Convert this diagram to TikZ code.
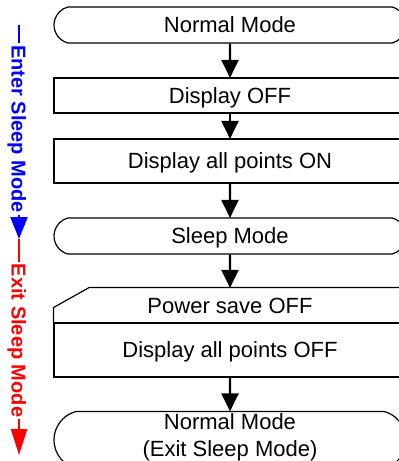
\documentclass[tikz,border=0pt]{standalone}
\usepackage{fontspec}
\setmainfont{Liberation Sans}
\usetikzlibrary{shapes.misc,arrows.meta,calc}
\begin{document}
\begin{tikzpicture}[x=1pt,y=-1pt,
  box/.style={draw, line width=1.2pt, rectangle, minimum width=352pt, inner sep=0pt,
    font=\fontsize{22}{27}\selectfont, text height=15.8pt, text depth=0pt},
  term/.style={box, rounded rectangle, rounded rectangle arc length=150},
  arr/.style={line width=2.2pt, -{Triangle[length=18pt,width=17pt]}, shorten >=-0.5pt},
  side/.style={font=\fontsize{20}{24}\selectfont\bfseries, rotate=-90, inner sep=1.5pt, text height=14.5pt, text depth=0pt},
  sarr/.style={line width=2.4pt}
]
\clip (0,0) rectangle (399,461);
\node[term, minimum height=36pt] (nm1) at (230,25) {Normal Mode};
\node[box, minimum height=35pt] (d1) at (230,95.5) {Display OFF};
\node[box, minimum height=44pt] (d2) at (230,161) {Display all points ON};
\node[term, minimum height=36pt] (sl) at (230,236) {Sleep Mode};
\node[box, draw=none, minimum height=35pt] (ps) at (230,305.5) {Power save OFF};
\node[box, minimum height=54pt] (dp) at (230,350) {Display all points OFF};
\node[term, minimum height=57pt, align=center, text height=, text depth=] (nm2) at (230,440) {Normal Mode\\(Exit Sleep Mode)\rule[-9pt]{0pt}{9pt}};
\draw[line width=1.2pt] (ps.south west) -- ++(0,-16) -- ($(ps.north west)+(36,0)$) -- (ps.north east) -- (ps.south east);
\draw[arr] (nm1) -- (d1);
\draw[arr] (d1) -- (d2);
\draw[arr] (d2) -- (sl);
\draw[arr] (sl) -- (ps);
\draw[arr] (dp) -- (nm2);
% side labels
\coordinate (btop) at (19,25);
\node[side, text=blue] (enter) at (19,129) {Enter Sleep Mode};
\coordinate (btip) at (19,239);
\draw[sarr, blue] (btop) -- (enter.west);
\draw[sarr, blue, -{Triangle[length=22pt,width=17pt]}] (enter.east) -- (btip);
\node[side, text=red] (exit) at (19,340.5) {Exit Sleep Mode};
\coordinate (rtip) at (19,455);
\draw[sarr, red] (btip) -- (exit.west);
\draw[sarr, red, -{Triangle[length=26pt,width=16pt]}] (exit.east) -- (rtip);
\end{tikzpicture}
\end{document}
